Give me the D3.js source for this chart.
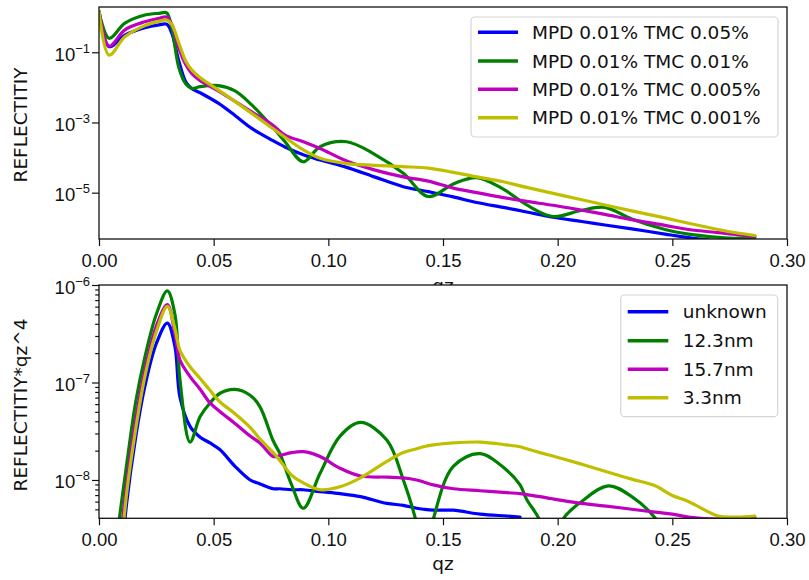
<!DOCTYPE html>
<html>
<head>
<meta charset="utf-8">
<script src="https://cdn.jsdelivr.net/npm/d3@7"></script>
<style>
  html, body { margin: 0; padding: 0; background: #fff; }
  svg { display: block; font-family: "DejaVu Sans", sans-serif; }
  .tick line { stroke: #111; stroke-width: 1.2; }
  .tick text { fill: #111; font-size: 18.5px; }
</style>
</head>
<body>
<svg id="chart" width="809" height="580"></svg>
<script>
// ---- data ----
const seriesColors = ['#0000ff', '#008000', '#bf00bf', '#bfbf00']
const topLabels = ['MPD 0.01% TMC 0.05%', 'MPD 0.01% TMC 0.01%', 'MPD 0.01% TMC 0.005%', 'MPD 0.01% TMC 0.001%']
const bottomLabels = ['unknown', '12.3nm', '15.7nm', '3.3nm']
const xTicks = [0, 0.05, 0.10, 0.15, 0.20, 0.25, 0.30]
const topYTicks = [1e-1, 1e-3, 1e-5]
const bottomYTicks = [1e-6, 1e-7, 1e-8]

// top panel: reflectivity
const topQz = [0, 0.0044, 0.0113, 0.02, 0.0262, 0.0295, 0.0317, 0.0349, 0.0378, 0.0404,
  0.044, 0.052, 0.0593, 0.0666, 0.0753, 0.0811, 0.0891, 0.0964, 0.108, 0.12,
  0.1327, 0.1436, 0.1545, 0.1647, 0.1763, 0.1865, 0.198, 0.2105, 0.2206, 0.2323,
  0.2468, 0.257, 0.27, 0.2785, 0.286]
const topBlue = [1.45, 0.145, 0.309, 0.501, 0.603, 0.631, 0.355, 5.37e-2, 1.45e-2, 9.33e-3,
  7.08e-3, 3.55e-3, 1.58e-3, 6.76e-4, 3.16e-4, 2.0e-4, 1.2e-4, 8.51e-5, 5.25e-5, 2.82e-5,
  1.48e-5, 1.07e-5, 7.59e-6, 5.25e-6, 3.8e-6, 2.82e-6, 2.0e-6, 1.51e-6, 1.2e-6, 9.33e-7,
  6.61e-7, 5.25e-7, 4.17e-7, 3.55e-7, 3.16e-7]
const topGreen = [1.45, 0.251, 0.676, 1.15, 1.29, 1.32, 0.501, 3.47e-2, 1.26e-2, 9.33e-3,
  1.05e-2, 1.12e-2, 7.94e-3, 3.16e-3, 7.94e-4, 2.82e-4, 7.59e-5, 2.04e-4, 2.82e-4, 1.26e-4,
  3.55e-5, 7.76e-6, 1.78e-5, 2.69e-5, 1.26e-5, 4.47e-6, 2.09e-6, 3.16e-6, 3.8e-6, 1.78e-6,
  8.91e-7, 6.61e-7, 5.37e-7, 5.01e-7, 5.25e-7]
const topMagenta = [1.45, 0.151, 0.437, 0.741, 0.933, 1.0, 0.631, 0.126, 4.47e-2, 2.51e-2,
  1.58e-2, 7.94e-3, 3.98e-3, 2.0e-3, 8.91e-4, 4.37e-4, 2.82e-4, 1.82e-4, 7.94e-5, 4.47e-5,
  2.82e-5, 2.14e-5, 1.35e-5, 1.0e-5, 7.24e-6, 5.62e-6, 4.37e-6, 3.16e-6, 2.4e-6, 1.7e-6,
  1.17e-6, 8.91e-7, 7.24e-7, 6.31e-7, 5.75e-7]
const topYellow = [1.45, 8.32e-2, 0.275, 0.575, 0.759, 0.832, 0.631, 0.178, 5.62e-2, 3.16e-2,
  1.91e-2, 8.51e-3, 3.98e-3, 1.82e-3, 7.08e-4, 3.8e-4, 1.66e-4, 9.55e-5, 6.76e-5, 6.03e-5,
  5.5e-5, 5.01e-5, 3.8e-5, 2.82e-5, 2.04e-5, 1.41e-5, 9.55e-6, 6.31e-6, 4.47e-6, 3.02e-6,
  1.91e-6, 1.35e-6, 8.91e-7, 7.08e-7, 6.03e-7]

// bottom panel: reflectivity * qz^4
const bottomQz = [0.008, 0.012, 0.016, 0.02, 0.025, 0.0298, 0.0331, 0.0353, 0.0397, 0.0441,
  0.0484, 0.0528, 0.0593, 0.0659, 0.0702, 0.076, 0.0789, 0.084, 0.0891, 0.0964,
  0.1051, 0.114, 0.1255, 0.1327, 0.1385, 0.1415, 0.1458, 0.1545, 0.1661, 0.1778,
  0.1836, 0.1865, 0.1923, 0.197, 0.2018, 0.2105, 0.2221, 0.2323, 0.2425, 0.25,
  0.257, 0.27, 0.278, 0.286]
const bottomBlue = [5.0e-10, 5.62e-9, 2.75e-8, 9.12e-8, 2.51e-7, 4.07e-7, 2.34e-7, 7.08e-8, 3.55e-8, 2.75e-8,
  2.4e-8, 2.04e-8, 1.38e-8, 1.0e-8, 9.12e-9, 8.13e-9, 8.13e-9, 7.94e-9, 7.94e-9, 7.59e-9,
  7.24e-9, 6.76e-9, 5.75e-9, 5.5e-9, 5.13e-9, 5.01e-9, 4.9e-9, 4.9e-9, 4.47e-9, 4.27e-9,
  4.17e-9, null, null, null, null, null, null, null, null, null,
  null, null, null, null]
const bottomGreen = [2.82e-9, 1.41e-8, 6.31e-8, 1.82e-7, 5.01e-7, 8.71e-7, 5.01e-7, 1.07e-7, 2.45e-8, 4.47e-8,
  6.17e-8, 7.76e-8, 8.51e-8, 7.41e-8, 5.62e-8, 2.51e-8, 1.86e-8, 8.91e-9, 5.13e-9, 1.17e-8,
  2.82e-8, 3.89e-8, 2.57e-8, 1.0e-8, 3.55e-9, 1.26e-9, 3.98e-9, 1.38e-8, 1.86e-8, 1.26e-8,
  8.91e-9, 6.31e-9, 3.8e-9, 1.26e-9, 3.8e-9, 6.03e-9, 8.71e-9, 6.76e-9, 4.07e-9, 2.0e-9,
  2.82e-9, 3.98e-9, 3.8e-9, 3.98e-9]
const bottomMagenta = [1.26e-9, 8.91e-9, 4.17e-8, 1.35e-7, 3.8e-7, 6.31e-7, 3.16e-7, 1.7e-7, 1.15e-7, 8.51e-8,
  6.17e-8, 5.01e-8, 3.8e-8, 2.82e-8, 2.4e-8, 1.74e-8, 1.78e-8, 1.91e-8, 1.95e-8, 1.74e-8,
  1.32e-8, 1.1e-8, 1.07e-8, 1.05e-8, 1.0e-8, 9.55e-9, 8.91e-9, 8.13e-9, 7.76e-9, 7.41e-9,
  7.24e-9, 7.08e-9, 6.76e-9, 6.46e-9, 6.17e-9, 5.75e-9, 5.37e-9, 5.01e-9, 4.68e-9, 4.47e-9,
  4.17e-9, 3.98e-9, 4.07e-9, 4.17e-9]
const bottomYellow = [6.31e-10, 7.08e-9, 3.31e-8, 1.15e-7, 3.31e-7, 6.03e-7, 3.55e-7, 2.14e-7, 1.45e-7, 1.1e-7,
  8.32e-8, 6.31e-8, 4.79e-8, 3.47e-8, 2.63e-8, 1.91e-8, 1.58e-8, 1.12e-8, 9.33e-9, 7.94e-9,
  8.51e-9, 1.05e-8, 1.55e-8, 1.91e-8, 2.09e-8, 2.19e-8, 2.29e-8, 2.4e-8, 2.45e-8, 2.29e-8,
  2.19e-8, 2.09e-8, 1.91e-8, 1.78e-8, 1.66e-8, 1.45e-8, 1.2e-8, 1.02e-8, 8.71e-9, 6.92e-9,
  6.03e-9, 4.27e-9, 4.17e-9, 4.27e-9]

const topSeries = [topBlue, topGreen, topMagenta, topYellow]
const bottomSeries = [bottomBlue, bottomGreen, bottomMagenta, bottomYellow]

// ---- layout ----
const svg = d3.select('#chart')
const left = 99
const right = 787

const x = d3.scaleLinear().domain([0, 0.3]).range([left, right])
const yTop = d3.scaleLog().domain([Math.pow(10, -6.32), Math.pow(10, 0.29)]).range([239, 7])
const yBot = d3.scaleLog().domain([Math.pow(10, -8.393), 1e-6]).range([518.3, 285])

function panel (y, qz, series, labels, yTicks, minorTicks, yLabel, yLabelCenter, legend, id) {
  const [y0, y1] = y.range()

  // axes background (also hides the top panel's x label, as in the original)
  svg.append('rect')
    .attr('x', left).attr('y', y1)
    .attr('width', right - left).attr('height', y0 - y1)
    .attr('fill', '#fff')

  svg.append('clipPath').attr('id', id)
    .append('rect')
    .attr('x', left).attr('y', y1)
    .attr('width', right - left).attr('height', y0 - y1)

  const line = d3.line()
    .defined(d => d[1] != null)
    .x(d => x(d[0]))
    .y(d => y(d[1]))
    .curve(d3.curveCatmullRom.alpha(0.5))

  const g = svg.append('g').attr('clip-path', 'url(#' + id + ')')
  series.forEach((vals, i) => {
    g.append('path')
      .datum(qz.map((q, k) => [q, vals[k]]))
      .attr('d', line)
      .attr('fill', 'none')
      .attr('stroke', seriesColors[i])
      .attr('stroke-width', 3.2)
      .attr('stroke-linejoin', 'round')
      .attr('stroke-linecap', 'round')
  })

  // x axis
  svg.append('g')
    .attr('transform', 'translate(0,' + y0 + ')')
    .call(d3.axisBottom(x).tickValues(xTicks).tickFormat(d3.format('.2f'))
      .tickSize(7).tickPadding(8).tickSizeOuter(0))
    .call(s => s.select('.domain').remove())

  // minor y ticks
  if (minorTicks.length) {
    svg.append('g')
      .attr('transform', 'translate(' + left + ',0)')
      .call(d3.axisLeft(y).tickValues(minorTicks).tickFormat('').tickSize(3.8).tickSizeOuter(0))
      .call(s => s.select('.domain').remove())
  }

  // major y ticks with 10^n labels
  const ya = svg.append('g')
    .attr('transform', 'translate(' + left + ',0)')
    .call(d3.axisLeft(y).tickValues(yTicks).tickFormat('').tickSize(7).tickSizeOuter(0))
    .call(s => s.select('.domain').remove())
  ya.selectAll('.tick text')
    .attr('x', -9).attr('dy', null).attr('y', 8)
    .attr('text-anchor', 'end')
    .each(function (d) {
      const t = d3.select(this)
      t.append('tspan').text('10')
      t.append('tspan').attr('font-size', '13px').attr('dy', -8)
        .text('\u2212' + Math.round(-Math.log10(d)))
    })

  // frame
  svg.append('rect')
    .attr('x', left).attr('y', y1)
    .attr('width', right - left).attr('height', y0 - y1)
    .attr('fill', 'none').attr('stroke', '#111').attr('stroke-width', 1.3)

  // y label
  svg.append('text')
    .attr('transform', 'translate(27,' + yLabelCenter + ') rotate(-90)')
    .attr('text-anchor', 'middle')
    .attr('font-size', '18.5px').attr('fill', '#111')
    .text(yLabel)

  // legend
  const lg = svg.append('g')
  lg.append('rect')
    .attr('x', legend.x0).attr('y', legend.y0)
    .attr('width', legend.x1 - legend.x0).attr('height', legend.y1 - legend.y0)
    .attr('rx', 4)
    .attr('fill', '#fff').attr('fill-opacity', 0.8)
    .attr('stroke', '#d6d6d6').attr('stroke-width', 1.2)
  labels.forEach((lab, i) => {
    const ry = legend.rows[i]
    lg.append('line')
      .attr('x1', legend.lx0).attr('x2', legend.lx1)
      .attr('y1', ry).attr('y2', ry)
      .attr('stroke', seriesColors[i]).attr('stroke-width', 3.4)
    lg.append('text')
      .attr('x', legend.tx).attr('y', ry + 6.6)
      .attr('font-size', '18.5px').attr('fill', '#111')
      .text(lab)
  })
}

// top panel x label first, so the lower panel covers most of it
svg.append('text')
  .attr('x', x(0.15)).attr('y', 292)
  .attr('text-anchor', 'middle').attr('font-size', '18.5px').attr('fill', '#111')
  .text('qz')

panel(yTop, topQz, topSeries, topLabels, topYTicks, [], 'REFLECTITIY', 125,
  { x0: 471, x1: 778, y0: 17, y1: 137, rows: [32.3, 61, 89.3, 117.7], lx0: 478, lx1: 518, tx: 532 },
  'clipTop')

const minor = []
;[1e-9, 1e-8, 1e-7].forEach(b => { for (let m = 2; m <= 9; m++) minor.push(b * m) })

panel(yBot, bottomQz, bottomSeries, bottomLabels, bottomYTicks, minor.filter(v => v > yBot.domain()[0] && v < 1e-6),
  'REFLECTITIY*qz^4', 405,
  { x0: 620.7, x1: 777.7, y0: 295, y1: 416.7, rows: [311.7, 340.7, 369.3, 397.7], lx0: 627.7, lx1: 668.3, tx: 682.7 },
  'clipBot')

svg.append('text')
  .attr('x', x(0.15)).attr('y', 570)
  .attr('text-anchor', 'middle').attr('font-size', '18.5px').attr('fill', '#111')
  .text('qz')
</script>
</body>
</html>
